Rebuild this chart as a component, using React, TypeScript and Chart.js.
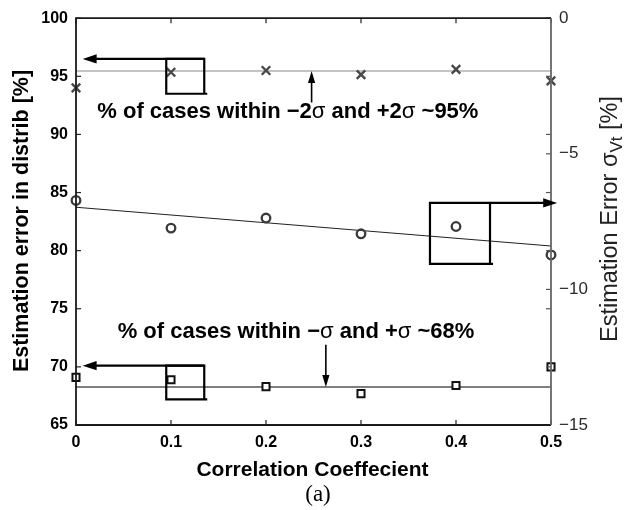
import { useEffect, useRef } from "react";
import { Chart, registerables } from "chart.js";

Chart.register(...registerables);

// Correlation coefficient sweep
const correlation = [0, 0.1, 0.2, 0.3, 0.4, 0.5];
// Share of cases inside ±2σ (left axis, %)
const within2SigmaPct = [94.0, 95.35, 95.5, 95.15, 95.6, 94.6];
// Share of cases inside ±σ (left axis, %)
const within1SigmaPct = [69.1, 68.9, 68.3, 67.7, 68.4, 70.0];
// Estimation error of σVt (right axis, %)
const sigmaVtErrorPct = [-6.72, -7.74, -7.37, -7.95, -7.68, -8.73];
// Linear fit of the σVt error, at the ends of the sweep
const fitX = [0, 0.5];
const sigmaVtFit = [-6.97, -8.4];
// Ideal Gaussian coverages
const gaussian2Sigma = 95.45;
const gaussian1Sigma = 68.27;

const xTicks = [0, 0.1, 0.2, 0.3, 0.4, 0.5];
const leftTicks = [65, 70, 75, 80, 85, 90, 95, 100];
const rightTicks = [-15, -10, -5, 0];

const FONT = '"Liberation Sans", Arial, Helvetica, sans-serif';

type Run = { t: string; bold?: boolean };

// Callout boxes with an arrow leaving the top corner (data units)
const callouts = [
  { axis: "y", x0: 0.095, x1: 0.135, yTop: 96.5, yBot: 93.5, tipX: 0.007, dir: "left" },
  { axis: "y1", x0: 0.3726, x1: 0.4358, yTop: -6.81, yBot: -9.06, tipX: 0.5065, dir: "right" },
  { axis: "y", x0: 0.095, x1: 0.135, yTop: 70.1, yBot: 67.2, tipX: 0.007, dir: "left" },
];

const pointers = [
  { x: 0.248, from: 92.75, to: gaussian2Sigma },
  { x: 0.263, from: 71.9, to: gaussian1Sigma },
];

const notes: { x: number; y: number; runs: Run[] }[] = [
  {
    x: 0.223,
    y: 91.9,
    runs: [
      { t: "% of cases within −2", bold: true },
      { t: "σ" },
      { t: " and +2", bold: true },
      { t: "σ" },
      { t: " ~95%", bold: true },
    ],
  },
  {
    x: 0.2316,
    y: 73.0,
    runs: [
      { t: "% of cases within −", bold: true },
      { t: "σ" },
      { t: " and +", bold: true },
      { t: "σ" },
      { t: " ~68%", bold: true },
    ],
  },
];

function arrowHead(ctx: CanvasRenderingContext2D, tx: number, ty: number, dx: number, dy: number, len: number, half: number) {
  const bx = tx - dx * len;
  const by = ty - dy * len;
  ctx.beginPath();
  ctx.moveTo(tx, ty);
  ctx.lineTo(bx - dy * half, by + dx * half);
  ctx.lineTo(bx + dy * half, by - dx * half);
  ctx.closePath();
  ctx.fill();
}

function drawRuns(ctx: CanvasRenderingContext2D, runs: Run[], cx: number, cy: number, size: number) {
  const fontOf = (r: Run) => `${r.bold ? "bold " : ""}${size}px ${FONT}`;
  let total = 0;
  for (const r of runs) {
    ctx.font = fontOf(r);
    total += ctx.measureText(r.t).width;
  }
  let x = cx - total / 2;
  ctx.textAlign = "left";
  ctx.textBaseline = "middle";
  for (const r of runs) {
    ctx.font = fontOf(r);
    ctx.fillText(r.t, x, cy);
    x += ctx.measureText(r.t).width;
  }
}

const decorations = {
  id: "decorations",
  afterDatasetsDraw(chart: any) {
    const ctx: CanvasRenderingContext2D = chart.ctx;
    const { left, right, top, bottom } = chart.chartArea;
    const xs = chart.scales.x;
    const yl = chart.scales.y;
    const yr = chart.scales.y1;
    const tick = 5;
    ctx.save();

    // Inward tick marks
    ctx.lineWidth = 1.2;
    ctx.strokeStyle = "#222";
    for (const v of xTicks) {
      const px = xs.getPixelForValue(v);
      ctx.beginPath();
      ctx.moveTo(px, bottom);
      ctx.lineTo(px, bottom - tick);
      ctx.moveTo(px, top);
      ctx.lineTo(px, top + tick);
      ctx.stroke();
    }
    for (const v of leftTicks) {
      const py = yl.getPixelForValue(v);
      ctx.beginPath();
      ctx.moveTo(left, py);
      ctx.lineTo(left + tick, py);
      ctx.stroke();
    }
    ctx.strokeStyle = "#555";
    for (const v of leftTicks) {
      const py = yl.getPixelForValue(v);
      ctx.beginPath();
      ctx.moveTo(right, py);
      ctx.lineTo(right - tick, py);
      ctx.stroke();
    }
    for (const v of rightTicks) {
      const py = yr.getPixelForValue(v);
      ctx.beginPath();
      ctx.moveTo(right, py);
      ctx.lineTo(right - tick, py);
      ctx.stroke();
    }

    // Frame
    ctx.lineWidth = 1.8;
    ctx.strokeStyle = "#1a1a1a";
    ctx.beginPath();
    ctx.moveTo(right, top);
    ctx.lineTo(left, top);
    ctx.lineTo(left, bottom);
    ctx.lineTo(right, bottom);
    ctx.stroke();
    ctx.strokeStyle = "#666";
    ctx.beginPath();
    ctx.moveTo(right, top);
    ctx.lineTo(right, bottom);
    ctx.stroke();

    // Callout boxes with arrows
    ctx.strokeStyle = "#000";
    ctx.fillStyle = "#000";
    ctx.lineWidth = 2.2;
    for (const c of callouts) {
      const ys = c.axis === "y" ? yl : yr;
      const x0 = xs.getPixelForValue(c.x0);
      const x1 = xs.getPixelForValue(c.x1);
      const yt = ys.getPixelForValue(c.yTop);
      const yb = ys.getPixelForValue(c.yBot);
      const tx = xs.getPixelForValue(c.tipX);
      ctx.beginPath();
      ctx.rect(x0, yt, x1 - x0, yb - yt);
      ctx.moveTo(x1, yb);
      ctx.lineTo(x1 + 3, yb);
      ctx.stroke();
      const dx = c.dir === "left" ? -1 : 1;
      ctx.beginPath();
      ctx.moveTo(x1, yt);
      ctx.lineTo(tx - dx * 12, yt);
      ctx.stroke();
      arrowHead(ctx, tx, yt, dx, 0, 14, 4.6);
    }

    // Vertical pointers to the reference lines
    ctx.lineWidth = 1.6;
    for (const p of pointers) {
      const px = xs.getPixelForValue(p.x);
      const y0 = yl.getPixelForValue(p.from);
      const y1 = yl.getPixelForValue(p.to);
      const dy = y1 > y0 ? 1 : -1;
      ctx.beginPath();
      ctx.moveTo(px, y0);
      ctx.lineTo(px, y1 - dy * 10);
      ctx.stroke();
      arrowHead(ctx, px, y1, 0, dy, 12, 3.6);
    }

    // Notes
    ctx.fillStyle = "#000";
    for (const n of notes) {
      drawRuns(ctx, n.runs, xs.getPixelForValue(n.x), yl.getPixelForValue(n.y), 22);
    }

    // Axis titles
    ctx.fillStyle = "#000";
    ctx.font = `bold 21px ${FONT}`;
    ctx.textAlign = "center";
    ctx.textBaseline = "middle";
    ctx.fillText("Correlation Coeffecient", (left + right) / 2 - 1, 470);

    ctx.save();
    ctx.translate(22, 221);
    ctx.rotate(-Math.PI / 2);
    ctx.font = `bold 21.5px ${FONT}`;
    ctx.fillText("Estimation error in distrib [%]", 0, 0);
    ctx.restore();

    // Right title with subscript
    ctx.save();
    ctx.translate(611, 219);
    ctx.rotate(-Math.PI / 2);
    ctx.fillStyle = "#222";
    const mainFont = `23.5px ${FONT}`;
    const subFont = `17px ${FONT}`;
    const parts: { t: string; f: string; dy: number }[] = [
      { t: "Estimation Error σ", f: mainFont, dy: 0 },
      { t: "Vt", f: subFont, dy: 6 },
      { t: " [%]", f: mainFont, dy: 0 },
    ];
    let w = 0;
    for (const p of parts) {
      ctx.font = p.f;
      w += ctx.measureText(p.t).width;
    }
    let x = -w / 2;
    ctx.textAlign = "left";
    for (const p of parts) {
      ctx.font = p.f;
      ctx.fillText(p.t, x, p.dy);
      x += ctx.measureText(p.t).width;
    }
    ctx.restore();

    // Panel label
    ctx.font = `23px "Liberation Serif", "Times New Roman", serif`;
    ctx.textAlign = "center";
    ctx.fillStyle = "#000";
    ctx.fillText("(a)", 318, 495);

    ctx.restore();
  },
};

export default function App() {
  const canvasRef = useRef<HTMLCanvasElement | null>(null);

  useEffect(() => {
    const canvas = canvasRef.current;
    if (!canvas) return;
    const pts = (ys: number[]) => correlation.map((x, i) => ({ x, y: ys[i] }));
    const flat = (v: number) => fitX.map((x) => ({ x, y: v }));

    const chart = new Chart(canvas, {
      type: "scatter",
      data: {
        datasets: [
          {
            label: "±2σ coverage",
            data: pts(within2SigmaPct),
            yAxisID: "y",
            pointStyle: "crossRot",
            pointRadius: 6,
            borderWidth: 2.4,
            borderColor: "#484848",
            backgroundColor: "#484848",
            clip: false,
          },
          {
            label: "σVt error",
            data: pts(sigmaVtErrorPct),
            yAxisID: "y1",
            pointStyle: "circle",
            pointRadius: 4.3,
            borderWidth: 2.3,
            borderColor: "#3a3a3a",
            backgroundColor: "rgba(255,255,255,0)",
            clip: false,
          },
          {
            label: "±σ coverage",
            data: pts(within1SigmaPct),
            yAxisID: "y",
            pointStyle: "rect",
            pointRadius: 5,
            borderWidth: 2,
            borderColor: "#111",
            backgroundColor: "#fff",
            clip: false,
          },
          {
            label: "σVt fit",
            data: fitX.map((x, i) => ({ x, y: sigmaVtFit[i] })),
            yAxisID: "y1",
            showLine: true,
            pointRadius: 0,
            borderColor: "#222",
            borderWidth: 1.2,
          },
          {
            label: "Gaussian 2σ",
            data: flat(gaussian2Sigma),
            yAxisID: "y",
            showLine: true,
            pointRadius: 0,
            borderColor: "#b0b0b0",
            borderWidth: 1.5,
          },
          {
            label: "Gaussian 1σ",
            data: flat(gaussian1Sigma),
            yAxisID: "y",
            showLine: true,
            pointRadius: 0,
            borderColor: "#555",
            borderWidth: 1.5,
          },
        ],
      },
      options: {
        animation: false,
        responsive: false,
        maintainAspectRatio: false,
        layout: { padding: { top: 13, left: 0, right: 0, bottom: 0 } },
        plugins: { legend: { display: false }, tooltip: { enabled: false } },
        scales: {
          x: {
            type: "linear",
            min: 0,
            max: 0.5,
            afterBuildTicks: (s: any) => {
              s.ticks = xTicks.map((value) => ({ value }));
            },
            afterFit: (s: any) => {
              s.height = 85;
            },
            grid: { display: false, drawTicks: false },
            border: { display: false },
            ticks: {
              padding: 8,
              color: "#000",
              font: { family: FONT, size: 16, weight: "bold" },
              callback: (v: any) => String(Number(Number(v).toFixed(1))),
            },
          },
          y: {
            type: "linear",
            position: "left",
            min: 65,
            max: 100,
            afterBuildTicks: (s: any) => {
              s.ticks = leftTicks.map((value) => ({ value }));
            },
            afterFit: (s: any) => {
              s.width = 76;
            },
            grid: { display: false, drawTicks: false },
            border: { display: false },
            ticks: {
              padding: 8,
              color: "#000",
              font: { family: FONT, size: 16, weight: "bold" },
            },
          },
          y1: {
            type: "linear",
            position: "right",
            min: -15,
            max: 0,
            afterBuildTicks: (s: any) => {
              s.ticks = rightTicks.map((value) => ({ value }));
            },
            afterFit: (s: any) => {
              s.width = 77;
            },
            grid: { display: false, drawTicks: false },
            border: { display: false },
            ticks: {
              padding: 8,
              color: "#2a2a2a",
              font: { family: FONT, size: 17 },
              callback: (v: any) => (Number(v) === 0 ? "0" : "−" + Math.abs(Number(v))),
            },
          },
        },
      },
      plugins: [decorations],
    });
    return () => chart.destroy();
  }, []);

  return (
    <div style={{ position: "fixed", left: 0, top: 0, width: 628, height: 510, background: "#fff" }}>
      <canvas ref={canvasRef} width={628} height={510} style={{ width: 628, height: 510, display: "block" }} />
    </div>
  );
}
